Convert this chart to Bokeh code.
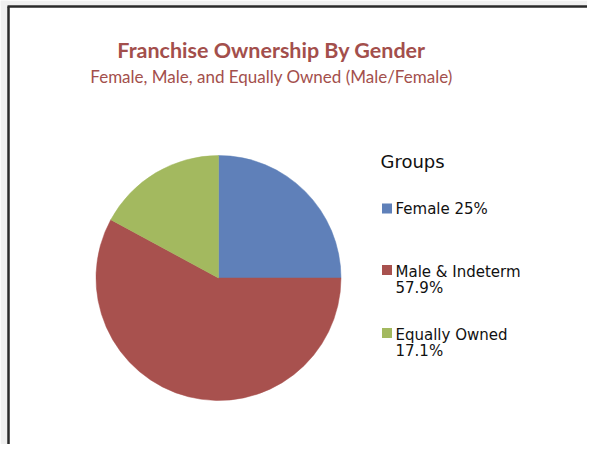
import math
from bokeh.plotting import figure
from bokeh.models import Range1d
from bokeh.core.properties import value
from bokeh.embed import file_html
from bokeh.resources import INLINE

# ---- data ----
groups = ["Female", "Male & Indeterm", "Equally Owned"]
shares = [25.0, 57.9, 17.1]
legend_labels = ["Female 25%", "Male & Indeterm\n57.9%", "Equally Owned\n17.1%"]
colors = ["#5f80b9", "#a8514e", "#a3b95f"]
title = "Franchise Ownership By Gender"
subtitle = "Female, Male, and Equally Owned (Male/Female)"
legend_title = "Groups"

W, H = 587, 444
p = figure(width=W, height=H, output_backend="svg", toolbar_location=None,
           x_range=Range1d(0, W), y_range=Range1d(0, H), min_border=0)
p.axis.visible = False
p.grid.visible = False
p.outline_line_color = None
p.background_fill_color = "white"
p.border_fill_color = "white"

# light surround outside the frame
p.quad(left=[0, 0], right=[7, W], bottom=[0, 439], top=[H, H],
       fill_color="#f0f0f0", line_color=None)
# frame (left and top edges)
p.segment(x0=[8, 7], y0=[0, 438], x1=[8, W], y1=[438, 438],
          line_color="#2a2a2a", line_width=2.5)

# titles
title_color = "#a34f4c"
p.text(x=[271], y=[395], text=[title], text_font=value("Lato"),
       text_font_style="bold", text_font_size="21.5px", text_color=title_color,
       text_align="center", text_baseline="alphabetic")
p.text(x=[271], y=[368], text=[subtitle], text_font=value("Lato"),
       text_font_size="17px", text_color=title_color, text_align="center",
       text_baseline="alphabetic")

# pie
total = sum(shares)
cx, cy, r = 218, 166.5, 122.5
starts, ends, acc = [], [], 0.0
for v in shares:
    starts.append(math.pi / 2 - acc / total * 2 * math.pi)
    acc += v
    ends.append(math.pi / 2 - acc / total * 2 * math.pi)
p.wedge(x=[cx] * len(shares), y=[cy] * len(shares), radius=r,
        start_angle=starts, end_angle=ends, direction="clock",
        fill_color=colors, line_color=colors, line_width=0.5)

# legend
font = value("DejaVu Sans")
p.text(x=[380], y=[283], text=[legend_title], text_font=font, text_font_size="18px",
       text_color="#111111", text_baseline="alphabetic")
sq_y = [236, 174.5, 111.5]
item_baselines = [236, 173, 110]
p.rect(x=[386.5] * 3, y=sq_y, width=10, height=10, fill_color=colors, line_color=None)
tx, ty, tt = [], [], []
for b, lab in zip(item_baselines, legend_labels):
    for i, line in enumerate(lab.split("\n")):
        tx.append(395)
        ty.append(b - 16 * i)
        tt.append(line)
p.text(x=tx, y=ty, text=tt, text_font=font, text_font_size="15px",
       text_color="#111111", text_baseline="alphabetic")

open("out.html", "w").write(file_html(p, INLINE))
